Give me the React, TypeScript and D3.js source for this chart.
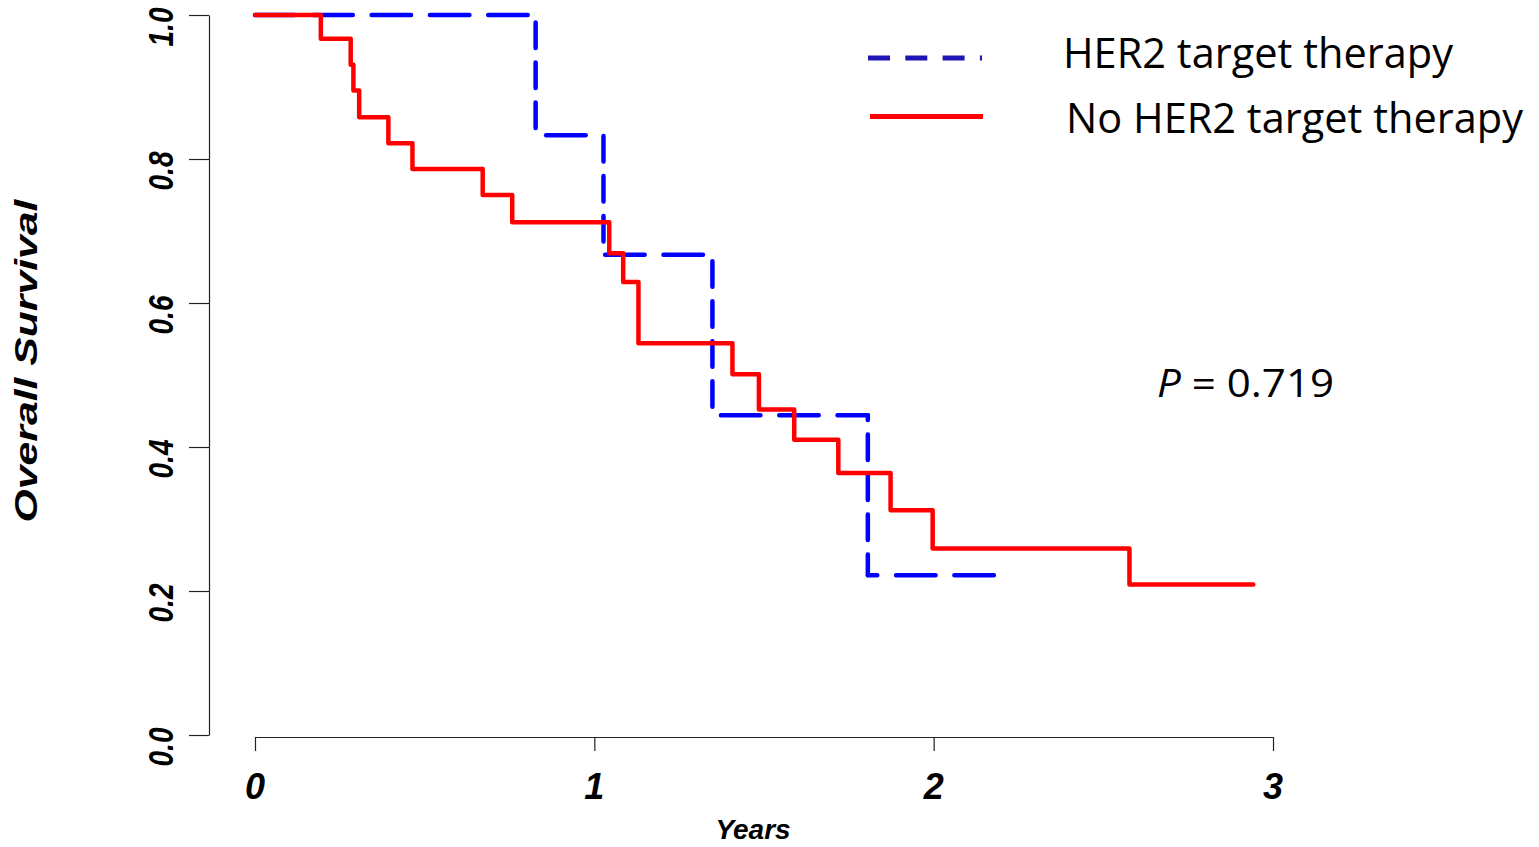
import React, { useRef, useEffect } from 'react'
import * as d3 from 'd3'

// survival curves (years, proportion surviving)
const herTimes = [0, 0.827, 1.027, 1.348, 1.806, 2.2]
const herSurv = [1.0, 0.833, 0.667, 0.444, 0.222, 0.222]

const noTimes = [0, 0.194, 0.282, 0.29, 0.307, 0.393, 0.464, 0.671, 0.758, 1.044, 1.085, 1.13, 1.407, 1.485, 1.589, 1.719, 1.873, 1.997, 2.577, 2.942]
const noSurv = [1.0, 0.967, 0.931, 0.895, 0.858, 0.822, 0.786, 0.75, 0.712, 0.669, 0.629, 0.544, 0.501, 0.452, 0.41, 0.364, 0.312, 0.259, 0.209, 0.209]

const xTicks = [0, 1, 2, 3]
const yTicks = [0, 0.2, 0.4, 0.6, 0.8, 1.0]

const legendLabels = ['HER2 target therapy', 'No HER2 target therapy']
const pLabel = '0.719'

const W = 1539, H = 847
const arial = '"Liberation Sans", Arial, sans-serif'
const sans = '"Open Sans", "Noto Sans", sans-serif'

const App = () => {
    const svgRef = useRef<SVGSVGElement>(null)

    useEffect(() => {
        const svg = d3.select(svgRef.current)
        svg.selectAll('*').remove()

        const x = d3.scaleLinear().domain([0, 3]).range([255, 1273])
        const y = d3.scaleLinear().domain([0, 1]).range([735, 15])

        // y axis
        const yAxis = d3.axisLeft(y).tickValues(yTicks).tickSize(20).tickSizeOuter(0).tickFormat(() => '')
        const gy = svg.append('g').attr('transform', 'translate(209,0)').call(yAxis)
        gy.selectAll('path, line').attr('stroke', '#222').attr('stroke-width', 1.2)

        yTicks.forEach(v => {
            svg.append('text')
                .attr('transform', `translate(173,${y(v) + 12}) rotate(-90) scale(0.78,1)`)
                .attr('text-anchor', 'middle')
                .style('font-family', arial)
                .style('font-weight', 'bold')
                .style('font-style', 'italic')
                .style('font-size', '36px')
                .text(v.toFixed(1))
        })

        // x axis
        const xAxis = d3.axisBottom(x).tickValues(xTicks).tickSize(14).tickSizeOuter(0).tickFormat(() => '')
        const gx = svg.append('g').attr('transform', 'translate(0,737)').call(xAxis)
        gx.selectAll('path, line').attr('stroke', '#222').attr('stroke-width', 1.2)

        xTicks.forEach(v => {
            svg.append('text')
                .attr('x', x(v))
                .attr('y', 799)
                .attr('text-anchor', 'middle')
                .style('font-family', arial)
                .style('font-weight', 'bold')
                .style('font-style', 'italic')
                .style('font-size', '36px')
                .text(v)
        })

        svg.append('text')
            .attr('x', 753).attr('y', 839)
            .attr('text-anchor', 'middle')
            .style('font-family', arial).style('font-weight', 'bold').style('font-style', 'italic')
            .style('font-size', '28px')
            .text('Years')

        svg.append('text')
            .attr('transform', 'translate(37,361) rotate(-90)')
            .attr('text-anchor', 'middle')
            .attr('textLength', 323)
            .attr('lengthAdjust', 'spacingAndGlyphs')
            .style('font-family', arial).style('font-weight', 'bold').style('font-style', 'italic')
            .style('font-size', '31px')
            .text('Overall Survival')

        // HER2 curve: dashed step line, horizontal and vertical runs get their own dash size
        const hPeriod = 58.3, vPeriod = 40
        let phase = 0
        const blue = svg.append('g').attr('stroke', '#0000ff').attr('stroke-width', 4.5)
            .attr('stroke-linecap', 'round').attr('fill', 'none')
        for (let i = 0; i < herTimes.length - 1; i++) {
            const x0 = x(herTimes[i]), x1 = x(herTimes[i + 1])
            const y0 = y(herSurv[i]), y1 = y(herSurv[i + 1])
            blue.append('line')
                .attr('x1', x0).attr('x2', x1).attr('y1', y0).attr('y2', y0)
                .attr('stroke-dasharray', '39.5 18.8')
                .attr('stroke-dashoffset', (phase % 1) * hPeriod)
            phase += (x1 - x0) / hPeriod
            if (y1 !== y0) {
                blue.append('line')
                    .attr('x1', x1).attr('x2', x1).attr('y1', y0).attr('y2', y1)
                    .attr('stroke-dasharray', '25.5 14.5')
                    .attr('stroke-dashoffset', (phase % 1) * vPeriod)
                phase += (y1 - y0) / vPeriod
            }
        }

        // no HER2 curve
        const line = d3.line<number>()
            .x((d, i) => x(noTimes[i]))
            .y(d => y(d))
            .curve(d3.curveStepAfter)
        svg.append('path')
            .attr('d', line(noSurv))
            .attr('fill', 'none')
            .attr('stroke', '#ff0000')
            .attr('stroke-width', 4.5)
            .attr('stroke-linejoin', 'round')
            .attr('stroke-linecap', 'round')

        // legend
        svg.append('line')
            .attr('x1', 868).attr('x2', 982).attr('y1', 58).attr('y2', 58)
            .attr('stroke', '#1f14b4').attr('stroke-width', 5)
            .attr('stroke-dasharray', '22 15.3')
        svg.append('line')
            .attr('x1', 870).attr('x2', 983).attr('y1', 116.5).attr('y2', 116.5)
            .attr('stroke', '#ff0000').attr('stroke-width', 5)

        const legendPos = [[1063, 68, 390], [1066, 133, 457]]
        legendLabels.forEach((t, i) => {
            svg.append('text')
                .attr('x', legendPos[i][0]).attr('y', legendPos[i][1])
                .attr('textLength', legendPos[i][2])
                .attr('lengthAdjust', 'spacingAndGlyphs')
                .style('font-family', sans).style('font-size', '42px')
                .text(t)
        })

        const p = svg.append('text')
            .attr('x', 1157).attr('y', 397)
            .attr('textLength', 177)
            .attr('lengthAdjust', 'spacingAndGlyphs')
            .style('font-family', sans).style('font-size', '39px')
        p.append('tspan').style('font-style', 'italic').text('P')
        p.append('tspan').text(' = ' + pLabel)
    }, [])

    return (
        <svg ref={svgRef} width={W} height={H}
            style={{ position: 'absolute', left: 0, top: 0, background: '#fff' }} />
    )
}

export default App
